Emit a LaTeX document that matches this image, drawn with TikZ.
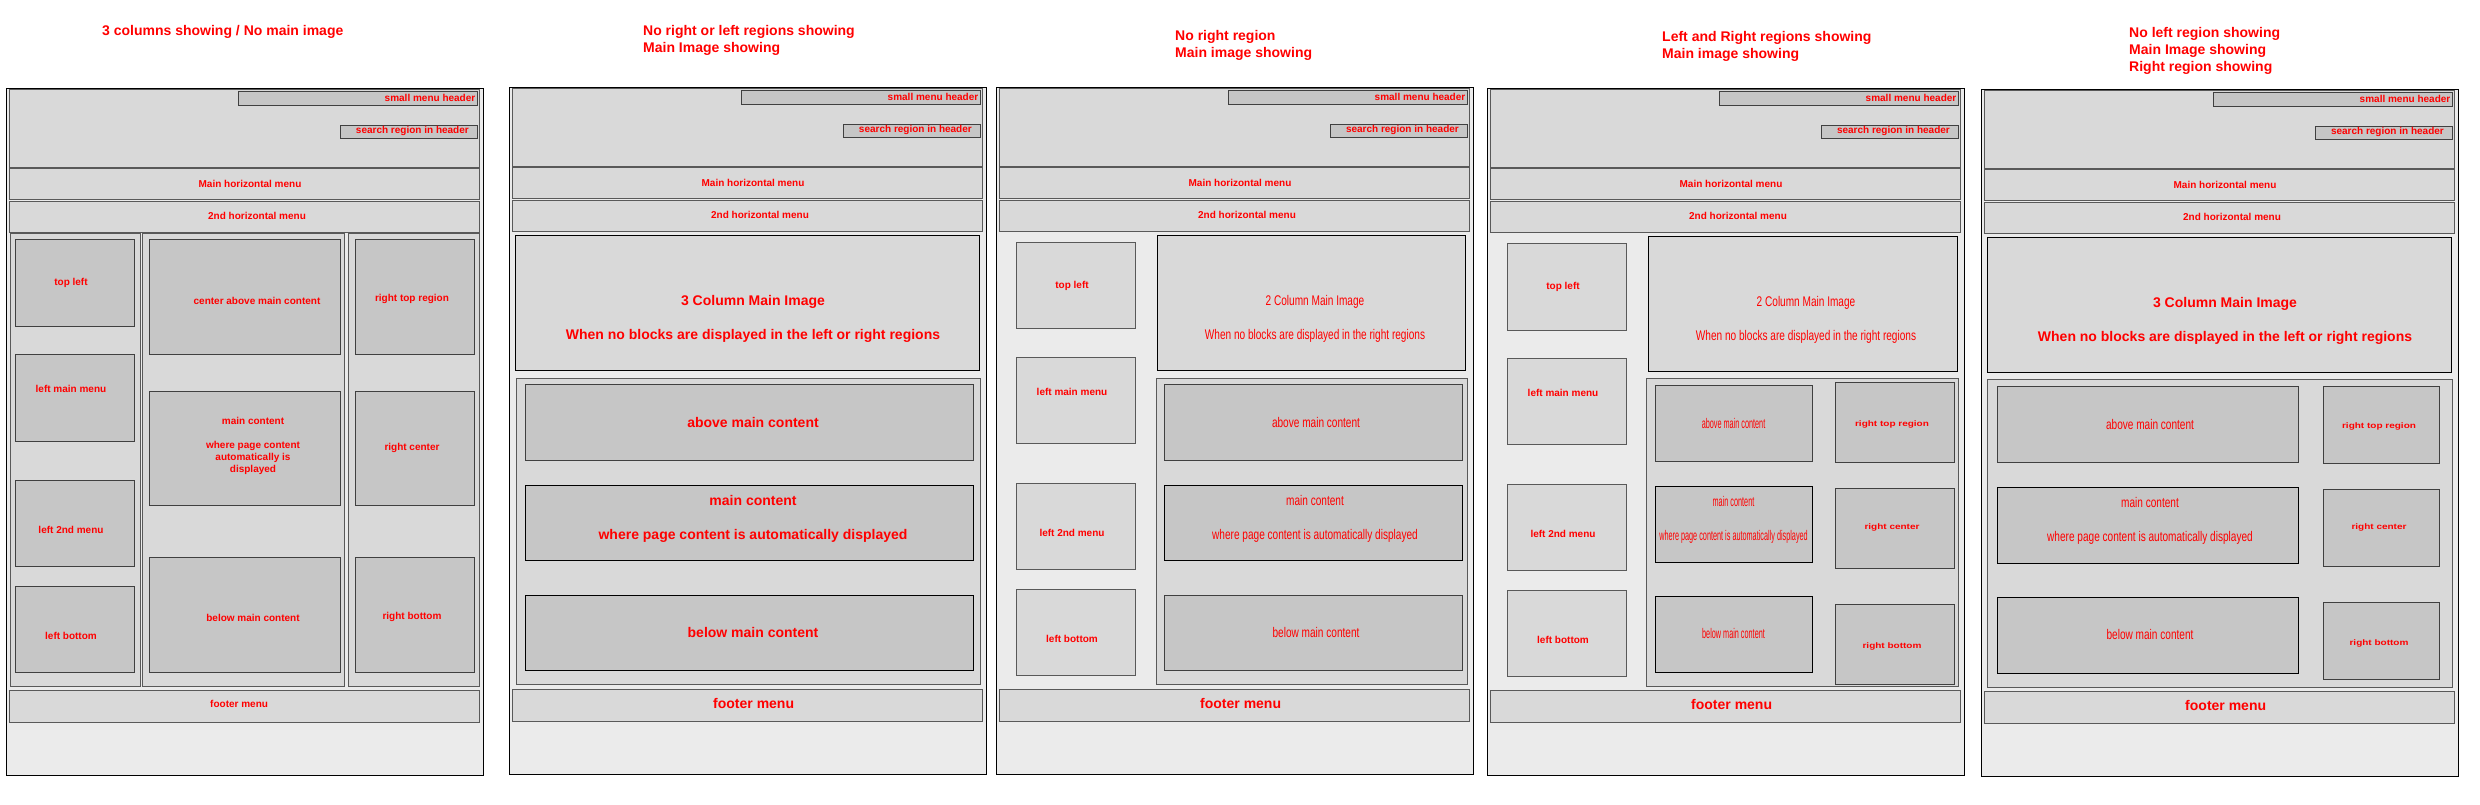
\documentclass[tikz,border=0pt]{standalone}
\usepackage{fontspec}
\setmainfont{Liberation Sans}
\newfontfamily\narrowfont{Liberation Sans}[FakeStretch=0.72]
\newfontfamily\tightfont{Liberation Sans}[FakeStretch=0.52]
\newfontfamily\widefont{Liberation Sans}[FakeStretch=1.25]

\definecolor{pagegray}{HTML}{EBEBEB}
\definecolor{bandgray}{HTML}{D9D9D9}
\definecolor{cellgray}{HTML}{C6C6C6}
\definecolor{labelred}{HTML}{FF0000}

\tikzset{
    pageframe/.style={draw=black, fill=pagegray, line width=1pt},
    band/.style={draw=black!65, fill=bandgray, line width=1pt},
    cell/.style={draw=black!75, fill=cellgray, line width=1pt},
    lbl/.style={text=labelred, inner sep=0pt, align=center, font=\bfseries\fontsize{10}{12}\selectfont},
    biglbl/.style={lbl, font=\bfseries\fontsize{14}{17}\selectfont},
    narrowlbl/.style={lbl, font=\narrowfont\fontsize{14}{17}\selectfont},
    tightlbl/.style={lbl, font=\tightfont\fontsize{14}{17}\selectfont},
    widelbl/.style={lbl, font=\widefont\bfseries\fontsize{8}{10}\selectfont},
    paneltitle/.style={lbl, anchor=west, align=left, font=\bfseries\fontsize{14}{17}\selectfont}
}

% header, menus and footer that every layout shares
\newcommand{\pagechrome}[1]{
    \draw[pageframe] (6,88) rectangle (483,775);
    \draw[band] (9,89) rectangle (479,167);
    \draw[cell] (238,91) rectangle (477,105);
    \node[lbl, anchor=east] (smallmenu) at (475.5,98) {small menu header};
    \draw[cell] (340,125) rectangle (477,138);
    \node[lbl, anchor=east] (search) at (469,131) {search region in header};
    \draw[band] (9,168) rectangle (479,199);
    \node[lbl] (mainmenu) at (250,184) {Main horizontal menu};
    \draw[band] (9,201) rectangle (479,232);
    \node[lbl] (secondmenu) at (257,216) {2nd horizontal menu};
    \draw[band] (9,690) rectangle (479,722);
    \node[#1, anchor=west] (footer) at (210,704) {footer menu};
}

\begin{document}
\begin{tikzpicture}[x=1pt, y=-1pt]
    \useasboundingbox (0,0) rectangle (2480,804);

    \begin{scope}[name prefix=p1-]
      \pagechrome{lbl}
      \node[paneltitle] (title) at (102,32) {3 columns showing / No main image};
      \draw[band] (10,233) rectangle (140,686);
      \draw[band] (142,233) rectangle (344,686);
      \draw[band] (348,233) rectangle (479,686);
      \foreach \top/\bot/\y/\id/\txt in {239/326/283/tl/top left, 354/441/389/lmm/left main menu,
          480/566/530/lsm/left 2nd menu, 586/672/636/lb/left bottom} {
        \draw[cell] (15,\top) rectangle (134,\bot);
        \node[lbl] (\id) at (71,\y) {\txt};
      }
      \draw[cell] (149,239) rectangle (340,354);
      \node[lbl] (cabove) at (257,301) {center above main content};
      \draw[cell] (149,391) rectangle (340,505);
      \node[lbl] (cmain) at (253,446) {main content\\[12pt]where page content\\automatically is\\displayed};
      \draw[cell] (149,557) rectangle (340,672);
      \node[lbl] (cbelow) at (253,618) {below main content};
      \foreach \top/\bot/\y/\id/\txt in {239/354/299/rt/right top region, 391/505/448/rc/right center,
          557/672/617/rb/right bottom} {
        \draw[cell] (355,\top) rectangle (474,\bot);
        \node[lbl] (\id) at (412,\y) {\txt};
      }
    \end{scope}

    \begin{scope}[shift={(503,-1)}, name prefix=p2-]
      \pagechrome{biglbl}
      \node[paneltitle] (title) at (140,41.5) {No right or left regions showing\\Main Image showing};
      \draw[band, draw=black] (12,236) rectangle (476,371);
      \node[biglbl] (image) at (250,320) {3 Column Main Image\\[17pt]When no blocks are displayed in the left or right regions};
      \draw[band] (13,379) rectangle (477,685);
      \draw[cell] (22,385) rectangle (470,461);
      \node[biglbl] (above) at (250,423) {above main content};
      \draw[cell, draw=black] (22,486) rectangle (470,561);
      \node[biglbl] (main) at (250,520) {main content\\[17pt]where page content is automatically displayed};
      \draw[cell, draw=black] (22,596) rectangle (470,671);
      \node[biglbl] (below) at (250,633) {below main content};
    \end{scope}

    \begin{scope}[shift={(990,-1)}, name prefix=p3-]
      \pagechrome{biglbl}
      \node[paneltitle] (title) at (185,46.5) {No right region\\Main image showing};
      \foreach \top/\bot/\y/\id/\txt in {243/329/287/tl/top left, 358/444/393/lmm/left main menu,
          484/570/534/lsm/left 2nd menu, 590/676/640/lb/left bottom} {
        \draw[band] (26,\top) rectangle (145,\bot);
        \node[lbl] (\id) at (82,\y) {\txt};
      }
      \draw[band, draw=black] (167,236) rectangle (475,371);
      \node[narrowlbl] (image) at (325,320) {2 Column Main Image\\[17pt]When no blocks are displayed in the right regions};
      \draw[band] (166,379) rectangle (477,685);
      \draw[cell] (174,385) rectangle (472,461);
      \node[narrowlbl] (above) at (326,423) {above main content};
      \draw[cell, draw=black] (174,486) rectangle (472,561);
      \node[narrowlbl] (main) at (325,520) {main content\\[17pt]where page content is automatically displayed};
      \draw[cell] (174,596) rectangle (472,671);
      \node[narrowlbl] (below) at (326,633) {below main content};
    \end{scope}

    \begin{scope}[shift={(1481,0)}, name prefix=p4-]
      \pagechrome{biglbl}
      \node[paneltitle] (title) at (181,46.5) {Left and Right regions showing\\Main image showing};
      \foreach \top/\bot/\y/\id/\txt in {243/330/287/tl/top left, 358/444/393/lmm/left main menu,
          484/570/534/lsm/left 2nd menu, 590/676/640/lb/left bottom} {
        \draw[band] (26,\top) rectangle (145,\bot);
        \node[lbl] (\id) at (82,\y) {\txt};
      }
      \draw[band, draw=black] (167,236) rectangle (476,371);
      \node[narrowlbl] (image) at (325,320) {2 Column Main Image\\[17pt]When no blocks are displayed in the right regions};
      \draw[band] (165,378) rectangle (477,686);
      \draw[cell] (174,385) rectangle (331,461);
      \node[tightlbl] (above) at (252.5,423) {above main content};
      \draw[cell, draw=black] (174,486) rectangle (331,562);
      \node[tightlbl] (main) at (252.5,520) {main content\\[17pt]where page content is automatically displayed};
      \draw[cell, draw=black] (174,596) rectangle (331,672);
      \node[tightlbl] (below) at (252.5,633) {below main content};
      \foreach \top/\bot/\y/\id/\txt in {382/462/424/rt/right top region, 488/568/527/rc/right center,
          604/684/646/rb/right bottom} {
        \draw[cell] (354,\top) rectangle (473,\bot);
        \node[widelbl] (\id) at (411,\y) {\txt};
      }
    \end{scope}

    \begin{scope}[shift={(1975,1)}, name prefix=p5-]
      \pagechrome{biglbl}
      \node[paneltitle] (title) at (154,50) {No left region showing\\Main Image showing\\Right region showing};
      \draw[band, draw=black] (12,236) rectangle (476,371);
      \node[biglbl] (image) at (250,320) {3 Column Main Image\\[17pt]When no blocks are displayed in the left or right regions};
      \draw[band] (12,378) rectangle (477,686);
      \draw[cell] (22,385) rectangle (323,461);
      \node[narrowlbl] (above) at (175,423) {above main content};
      \draw[cell, draw=black] (22,486) rectangle (323,562);
      \node[narrowlbl] (main) at (175,520) {main content\\[17pt]where page content is automatically displayed};
      \draw[cell, draw=black] (22,596) rectangle (323,672);
      \node[narrowlbl] (below) at (175,633) {below main content};
      \foreach \top/\bot/\y/\id/\txt in {385/462/425/rt/right top region, 488/565/526/rc/right center,
          601/678/642/rb/right bottom} {
        \draw[cell] (348,\top) rectangle (464,\bot);
        \node[widelbl] (\id) at (404,\y) {\txt};
      }
    \end{scope}
\end{tikzpicture}
\end{document}
